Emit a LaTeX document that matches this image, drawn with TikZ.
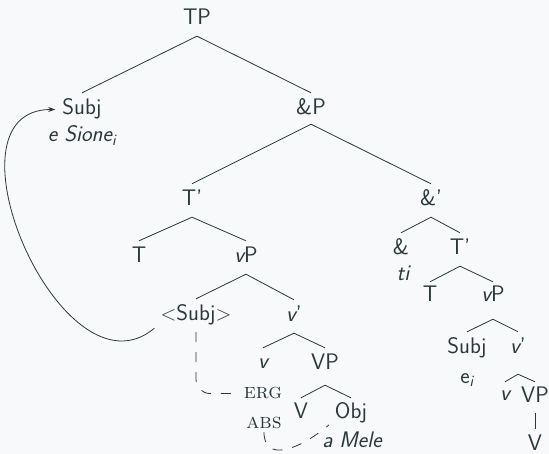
\documentclass[tikz,border=0pt]{standalone}
\usetikzlibrary{arrows.meta}
\definecolor{ink}{RGB}{42,56,58}
\definecolor{bg}{RGB}{248,249,250}
\begin{document}
\begin{tikzpicture}[x=1pt,y=-1pt,
  lbl/.style={font=\sffamily\fontsize{22.5}{26}\selectfont, text=ink, anchor=base,
    inner xsep=0pt, inner ysep=6pt, text height=16pt, text depth=5pt},
  low/.style={lbl, inner ysep=0pt, text height=22pt, text depth=0pt},
  cas/.style={font=\rmfamily\fontsize{21.5}{24}\selectfont\scshape, text=ink, anchor=base,
    inner xsep=3pt, inner ysep=4pt, text height=11pt, text depth=0pt},
  br/.style={draw=ink, line width=0.8pt},
  dsh/.style={br, dash pattern=on 10pt off 10pt}]
\fill[bg] (0,0) rectangle (549,454);
\useasboundingbox (0,0) rectangle (549,454);
% left / main tree
\node[lbl] (tp) at (197,25) {TP};
\node[lbl] (subj) at (82,115) {Subj};
\node[lbl] (sione) at (82,142) {\itshape e Sione\textsubscript{i}};
\node[lbl] (andp) at (311,115) {\&P};
\node[lbl] (tbar) at (192,206) {T'};
\node[lbl] (andbar) at (431,206) {\&'};
\node[lbl] (t) at (139,263) {T};
\node[lbl] (vp) at (246,263) {{\itshape v}P};
\node[lbl] (tr) at (196,321) {$<$Subj$>$};
\node[lbl] (vbar) at (294,322) {{\itshape v}'};
\node[lbl] (v) at (263,368) {\itshape v};
\node[lbl] (VP) at (325,370) {VP};
\node[lbl] (V) at (301,418) {V};
\node[lbl] (obj) at (351,418) {Obj};
\node[low] (mele) at (352,447) {\itshape a Mele};
\node[cas] (erg) at (263,399) {erg};
\node[cas] (abs) at (264,428) {abs};
% right conjunct
\node[lbl] (and) at (401,255) {\&};
\node[lbl] (ti) at (403,281) {\itshape ti};
\node[lbl] (tbar2) at (460,255) {T'};
\node[lbl] (t2) at (430,302) {T};
\node[lbl] (vp2) at (493,302) {{\itshape v}P};
\node[lbl] (subj2) at (467,354) {Subj};
\node[lbl] (vbar2) at (518,354) {{\itshape v}'};
\node[lbl] (ei) at (467,383) {e\textsubscript{\itshape i}};
\node[lbl] (v2) at (505,400) {\itshape v};
\node[lbl] (VP2) at (535,402) {VP};
\node[low] (V2) at (535,450.5) {V};
% branches
\draw[br] (subj.north) -- (tp.south) -- (andp.north);
\draw[br] (tbar.north) -- ([yshift=2pt]andp.south) -- (andbar.north);
\draw[br] (t.north) -- (tbar.south) -- (vp.north);
\draw[br] (tr.north) -- (vp.south) -- (vbar.north);
\draw[br] ([yshift=-2pt]v.north) -- (vbar.south) -- (VP.north);
\draw[br] ([yshift=-2pt]V.north) -- ([yshift=-4pt]VP.south) -- ([yshift=-2pt]obj.north);
\draw[br] (and.north) -- (andbar.south) -- (tbar2.north);
\draw[br] ([yshift=-2pt]t2.north) -- (tbar2.south) -- ([yshift=-2pt]vp2.north);
\draw[br] (subj2.north) -- ([yshift=-6pt]vp2.south) -- (vbar2.north);
\draw[br] ([yshift=-4pt]v2.north) -- ([yshift=-9pt]vbar2.south) -- ([yshift=-2pt]VP2.north);
\draw[br] (VP2.south) -- ([yshift=-1pt]V2.north);
% movement arrow
\draw[br, -{Stealth[length=7pt,width=5pt]}] ([xshift=-6pt,yshift=4pt]tr.south west)
  .. controls +(-92,77) and +(-120,0) .. ([xshift=-7pt]subj.west);
% case links
\draw[dsh, rounded corners=14pt] (tr.south) |- ([xshift=-4pt]erg.west);
\draw[dsh] (abs.south) .. controls +(0,30) and +(-31,26) .. ([xshift=7pt]mele.north west);
\end{tikzpicture}
\end{document}
